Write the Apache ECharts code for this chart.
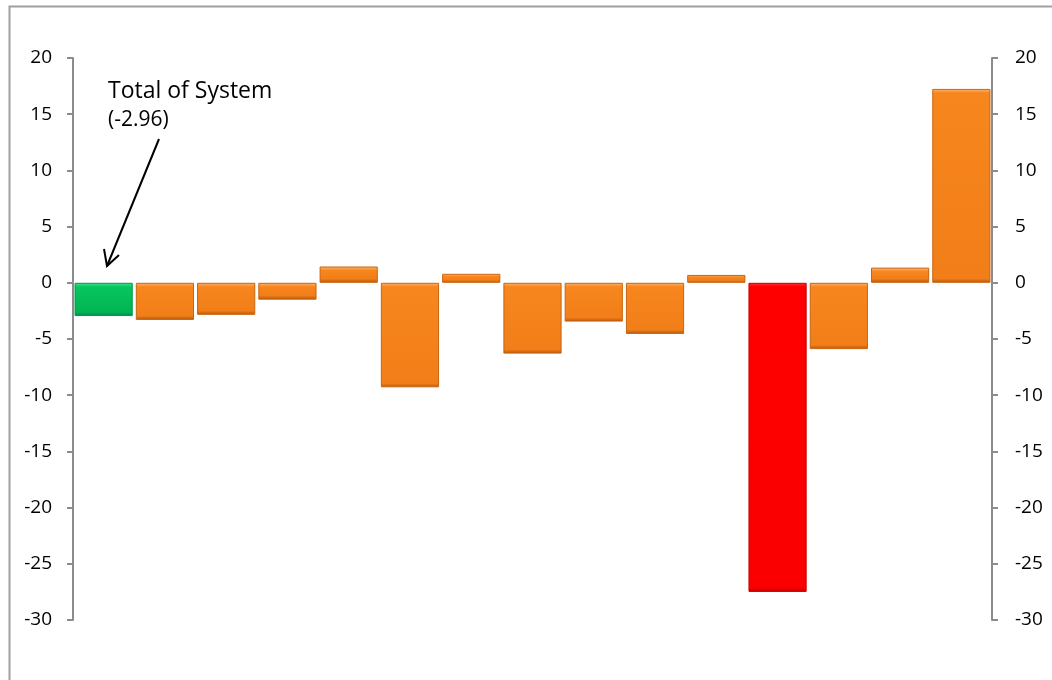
<!DOCTYPE html>
<html>
<head>
<meta charset="utf-8">
<script src="https://cdn.jsdelivr.net/npm/echarts@6/dist/echarts.min.js"></script>
<style>
  html, body { margin: 0; padding: 0; background: #fff; }
  #chart { width: 1052px; height: 680px; }
</style>
</head>
<body>
<div id="chart"></div>
<script>
// categories are not labelled in the picture, keep them as indices
const categories = ['1', '2', '3', '4', '5', '6', '7', '8', '9', '10', '11', '12', '13', '14', '15'];
const values = [-2.96, -3.3, -2.85, -1.5, 1.45, -9.3, 0.8, -6.3, -3.45, -4.55, 0.7, -27.5, -5.9, 1.35, 17.25];
const yTicks = { min: -30, max: 20, step: 5 };
const noteTitle = 'Total of System';
const noteValue = '(-2.96)';

const font = 'Open Sans, Noto Sans, sans-serif';
const pxPerUnit = 562 / (yTicks.max - yTicks.min);

// bevel look: thin light edge on top, thin dark edge at the bottom, flat middle
function bevel(light, main, mid, dark, v) {
    let h = Math.max(2, Math.abs(v) * pxPerUnit);
    let e = Math.min(0.3, 4 / h);
    return new echarts.graphic.LinearGradient(0, 0, 0, 1, [
        { offset: 0, color: light },
        { offset: e, color: main },
        { offset: 1 - e, color: mid },
        { offset: 1, color: dark }
    ]);
}

function barStyle(i, v) {
    if (i === 0) return { color: bevel('#45E890', '#08C560', '#00B552', '#00874A', v), borderColor: '#00964A' };
    if (i === 11) return { color: bevel('#FF3030', '#FF0000', '#FA0000', '#C00000', v), borderColor: '#C40000' };
    return { color: bevel('#FFB870', '#F8861E', '#F17E18', '#B2560C', v), borderColor: '#C8640F' };
}

const data = values.map((v, i) => ({
    value: v,
    itemStyle: Object.assign({ borderWidth: 1 }, barStyle(i, v))
}));

const axisLineStyle = { show: true, lineStyle: { color: '#8C8C8C', width: 2 } };
const axisTickStyle = { show: true, inside: false, length: 6, lineStyle: { color: '#8C8C8C', width: 2 } };

const myChart = echarts.init(document.getElementById('chart'));

myChart.setOption({
    backgroundColor: '#fff',
    animation: false,
    grid: { left: 73, right: 60, top: 58, bottom: 60, containLabel: false },
    xAxis: {
        type: 'category',
        data: categories,
        axisLine: { show: false },
        axisTick: { show: false },
        axisLabel: { show: false },
        splitLine: { show: false }
    },
    yAxis: [{
        type: 'value',
        position: 'left',
        min: yTicks.min,
        max: yTicks.max,
        interval: yTicks.step,
        axisLine: axisLineStyle,
        axisTick: axisTickStyle,
        axisLabel: { color: '#000', fontSize: 19, fontFamily: font, margin: 21 },
        splitLine: { show: false }
    }, {
        type: 'value',
        position: 'right',
        min: yTicks.min,
        max: yTicks.max,
        interval: yTicks.step,
        axisLine: axisLineStyle,
        axisTick: axisTickStyle,
        axisLabel: { color: '#000', fontSize: 19, fontFamily: font, margin: 23 },
        splitLine: { show: false }
    }],
    series: [{
        type: 'bar',
        data: data,
        barCategoryGap: '5%',
        yAxisIndex: 0
    }],
    graphic: [
        // outer frame, cut off on the right and bottom like the picture
        {
            type: 'rect',
            shape: { x: 9.5, y: 6.5, width: 1100, height: 800 },
            style: { fill: 'none', stroke: '#A0A0A0', lineWidth: 2 },
            silent: true
        },
        {
            type: 'text',
            x: 108, y: 80,
            style: { text: noteTitle, fill: '#000', fontSize: 23, fontFamily: font }
        },
        {
            type: 'text',
            x: 108, y: 110,
            style: { text: noteValue, fill: '#000', fontSize: 21, fontFamily: font }
        },
        {
            type: 'line',
            shape: { x1: 159, y1: 139, x2: 107, y2: 266 },
            style: { stroke: '#000', lineWidth: 2 }
        },
        {
            type: 'polyline',
            shape: { points: [[104, 249], [107, 266], [119, 255]] },
            style: { stroke: '#000', lineWidth: 2, fill: 'none' }
        }
    ]
});
</script>
</body>
</html>
